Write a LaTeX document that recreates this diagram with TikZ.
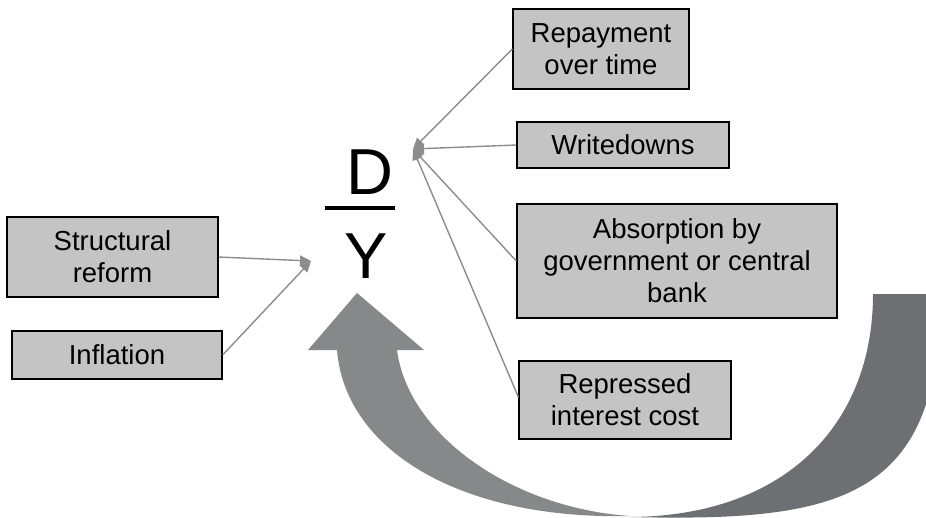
\documentclass[tikz,border=0pt]{standalone}
\usepackage{fontspec}
\setmainfont{Liberation Sans}
\usetikzlibrary{arrows.meta}
\definecolor{boxgray}{HTML}{C3C4C3}
\definecolor{linegray}{HTML}{8C8C8C}
\definecolor{arclight}{HTML}{87888A}
\definecolor{arcdark}{HTML}{6D6F72}

\begin{document}
\begin{tikzpicture}[x = 1pt, y = -1pt,
    box/.style = {draw = black, line width = 1.3pt, fill = boxgray, align = center,
        inner sep = 0pt, font = \fontsize{27.5}{32}\selectfont},
    feed/.style = {draw = linegray, line width = 1.4pt,
        -{Triangle[length = 11pt, width = 10pt]}},
    big/.style = {inner sep = 0pt, font = \fontsize{65}{70}\selectfont}]
    \useasboundingbox (0,0) rectangle (926,517);

    \begin{scope}
        \clip (0,0) rectangle (926,517);
        % left half of the loop, with the head
        \fill[arclight] (337,350) -- (308,350) -- (357,293) -- (424,350) -- (397,350)
            .. controls (408,435) and (512,508) .. (630,516)
            .. controls (460,520) and (345,450) .. cycle;
        % right half of the loop
        \fill[arcdark] (873,294) -- (940,294)
            .. controls (941,500) and (840,522) .. (630,517)
            .. controls (785,516) and (873,425) .. cycle;
    \end{scope}

    \node[big] (numD) at (370,172) {D};
    \node[big] (denY) at (366,256) {Y};
    \draw[line width = 3.4pt] (325,208) -- (395,208);

    \node[box, minimum width = 176pt, minimum height = 80pt] (repay) at (601,49) {Repayment\\over time};
    \node[box, minimum width = 212pt, minimum height = 46pt] (write) at (623,145) {Writedowns};
    \node[box, minimum width = 320pt, minimum height = 114pt] (absorb) at (677,261) {Absorption by\\government or central\\bank};
    \node[box, minimum width = 212pt, minimum height = 78pt] (repress) at (625,400) {Repressed\\interest cost};
    \node[box, minimum width = 211pt, minimum height = 80pt] (struct) at (112.5,257) {Structural\\reform};
    \node[box, minimum width = 210pt, minimum height = 48pt] (infl) at (117,355) {Inflation};

    \coordinate (dyr) at (413,149);
    \coordinate (dyl) at (311,261);

    \draw[feed] (repay.west) -- (dyr);
    \draw[feed] (write.west) -- (dyr);
    \draw[feed] (absorb.west) -- (dyr);
    \draw[feed] ([yshift = 3pt]repress.west) -- (dyr);
    \draw[feed] (struct.east) -- (dyl);
    \draw[feed] (infl.east) -- (dyl);
\end{tikzpicture}
\end{document}
